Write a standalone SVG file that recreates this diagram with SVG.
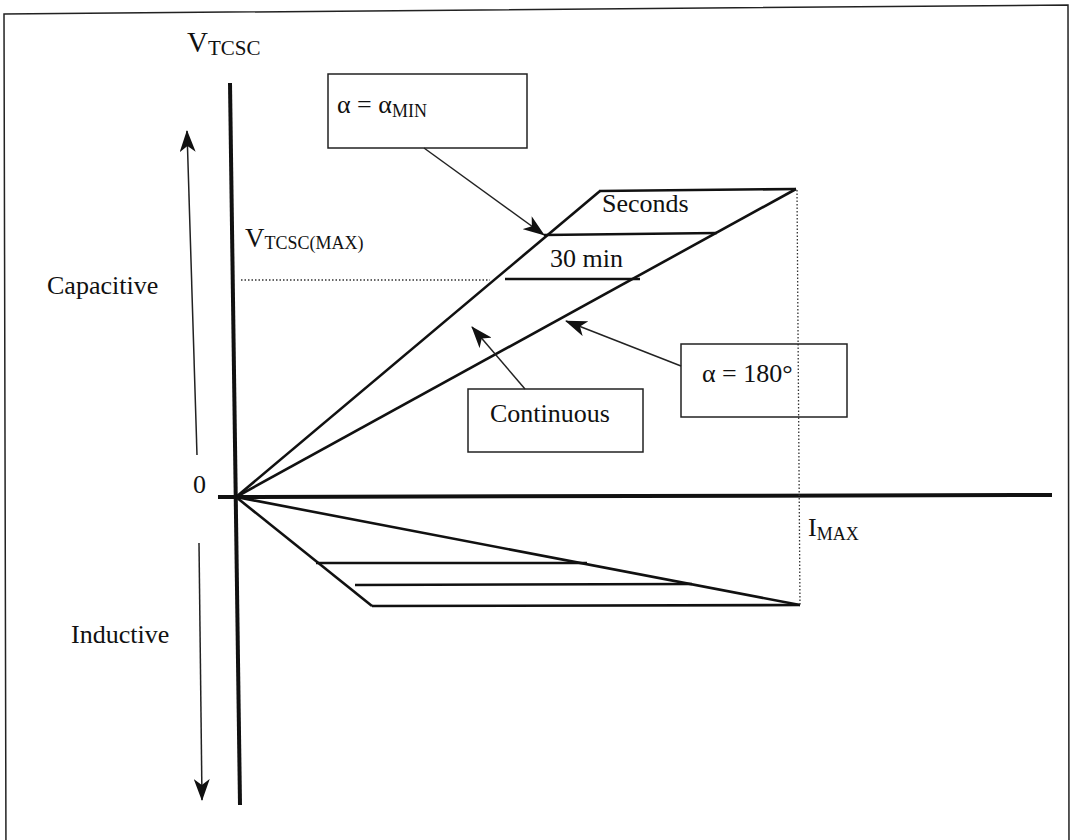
<svg xmlns="http://www.w3.org/2000/svg" width="1072" height="840" viewBox="0 0 1072 840">
<style>
text{font-family:"Liberation Serif","Times New Roman",serif;fill:#111}
.lbl{font-size:26px}
.frame{fill:none;stroke:#222;stroke-width:1.5}
.axis{stroke:#111;stroke-width:4;fill:none}
.curve{stroke:#111;stroke-width:2.6;fill:none}
.thin{stroke:#222;stroke-width:1.5;fill:none}
.dot{stroke:#333;stroke-width:1.3;stroke-dasharray:1.5 2;fill:none}
.box{fill:#fff;stroke:#222;stroke-width:1.5}
</style>
<defs>
<marker id="ah" markerUnits="userSpaceOnUse" markerWidth="22" markerHeight="16" viewBox="0 0 22 16" refX="21" refY="8" orient="auto">
<path d="M0,0 L22,8 L0,16 L6,8 z" fill="#111"/>
</marker>
</defs>
<rect width="1072" height="840" fill="#fff"/>
<path class="frame" d="M6,860 L4,14 L1068,5 L1069,860"/>

<g id="axes">
<line class="axis" x1="230" y1="83" x2="240" y2="805"/>
<line class="axis" x1="218" y1="497" x2="1052" y2="495"/>
<text id="v-label" x="187" y="52" style="font-size:29px">V<tspan style="font-size:21px" dy="3">TCSC</tspan></text>
<text id="zero" class="lbl" x="193" y="493">0</text>
<text id="imax" x="808" y="536" style="font-size:26px">I<tspan style="font-size:18px" dy="4">MAX</tspan></text>
<text id="vmax" x="245" y="247" style="font-size:27px">V<tspan style="font-size:18px" dy="2">TCSC(MAX)</tspan></text>
</g>

<g id="direction">
<text id="capacitive" class="lbl" x="47" y="294">Capacitive</text>
<text id="inductive" class="lbl" x="71" y="643">Inductive</text>
</g>

<g id="capacitive-region">
<line class="curve" x1="236" y1="497" x2="600" y2="191"/>
<line class="curve" x1="236" y1="497" x2="796" y2="189"/>
<line class="curve" x1="599" y1="191" x2="796" y2="189"/>
<line class="curve" x1="544" y1="235" x2="717" y2="233"/>
<line class="curve" x1="505" y1="279" x2="640" y2="279"/>
<text id="seconds" class="lbl" x="602" y="212">Seconds</text>
<text id="min30" class="lbl" x="550" y="267">30 min</text>
</g>

<g id="inductive-region">
<line class="curve" x1="236" y1="497" x2="800" y2="605"/>
<line class="curve" x1="236" y1="497" x2="372" y2="606"/>
<line class="curve" x1="372" y1="606" x2="800" y2="605"/>
<line class="curve" x1="316" y1="563" x2="587" y2="563"/>
<line class="curve" x1="355" y1="585" x2="692" y2="584"/>
</g>

<g id="guides">
<line class="dot" x1="241" y1="280" x2="490" y2="280"/>
<line class="dot" x1="797" y1="190" x2="800" y2="605"/>
</g>

<g id="box-amin">
<rect class="box" x="328" y="74" width="199" height="74"/>
<text class="lbl" x="337" y="113">α = α<tspan style="font-size:18px" dy="4">MIN</tspan></text>
</g>

<g id="box-continuous">
<rect class="box" x="468" y="389" width="175" height="63"/>
<text class="lbl" x="490" y="422">Continuous</text>
</g>

<g id="box-a180">
<rect class="box" x="681" y="344" width="166" height="73" fill="none" style="fill:none"/>
<text class="lbl" x="702" y="382">α = 180°</text>
</g>

<g id="connectors">
<line class="thin" x1="197" y1="455" x2="187" y2="131" marker-end="url(#ah)"/>
<line class="thin" x1="199" y1="543" x2="202" y2="800" marker-end="url(#ah)"/>
<line class="thin" x1="424" y1="148" x2="544" y2="235" marker-end="url(#ah)"/>
<line class="thin" x1="525" y1="389" x2="472" y2="327" marker-end="url(#ah)"/>
<line class="thin" x1="681" y1="366" x2="566" y2="321" marker-end="url(#ah)"/>
</g>
</svg>
